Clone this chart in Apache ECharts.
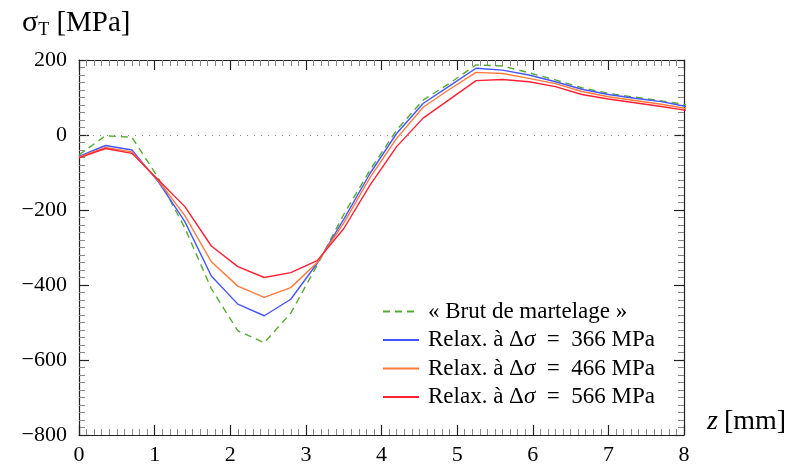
<!DOCTYPE html>
<html>
<head>
<meta charset="utf-8">
<script src="https://cdn.jsdelivr.net/npm/echarts@6/dist/echarts.min.js"></script>
<style>
  html, body { margin: 0; padding: 0; background: #fff; }
  #chart { width: 789px; height: 469px; }
</style>
</head>
<body>
<div id="chart"></div>
<script>
// Depth positions (mm), sampled every 0.35 mm
const zPos = [0, 0.35, 0.7, 1.05, 1.4, 1.75, 2.1, 2.45, 2.8, 3.15, 3.5, 3.85,
              4.2, 4.55, 4.9, 5.25, 5.6, 5.95, 6.3, 6.65, 7.0, 7.35, 7.7, 8.05];

// Transverse residual stress (MPa)
const brut   = [-53, -2, -6, -115, -248, -410, -522, -554, -475, -347, -212, -93,
                13, 93, 138, 187, 184, 166, 147, 126, 111, 101, 91, 80];
const relax366 = [-57, -28, -40, -125, -231, -376, -451, -482, -438, -342, -225, -102,
                4, 84, 131, 178, 173, 160, 142, 122, 108, 98, 89, 75];
const relax466 = [-59, -33, -45, -122, -215, -338, -403, -433, -407, -340, -235, -113,
                -9, 74, 122, 167, 164, 151, 137, 116, 102, 92, 82, 70];
const relax566 = [-61, -36, -49, -120, -191, -296, -351, -380, -367, -335, -250, -133,
                -31, 45, 95, 145, 148, 142, 129, 108, 96, 86, 76, 65];

const seriesNames = ['brut', 'r366', 'r466', 'r566'];
const legendText = {
  brut: '« Brut de martelage »',
  r366: 'Relax. à Δ{s|σ}\u2002=\u2002366 MPa',
  r466: 'Relax. à Δ{s|σ}\u2002=\u2002466 MPa',
  r566: 'Relax. à Δ{s|σ}\u2002=\u2002566 MPa'
};

const xTicks = [0, 1, 2, 3, 4, 5, 6, 7, 8];
const yTicks = [-800, -600, -400, -200, 0, 200];

const pairs = vals => zPos.map((z, i) => [z, vals[i]]);

const serif = 'Liberation Serif';
const axisColor = '#222';

function mainAxis(extra) {
  return Object.assign({
    type: 'value',
    axisLine: { show: true, onZero: false, lineStyle: { color: axisColor, width: 1.2 } },
    axisTick: { show: true, inside: true, length: 10, lineStyle: { color: axisColor, width: 1.2 } },
    minorTick: { show: true, splitNumber: 10, length: 6, lineStyle: { color: '#888', width: 1 } },
    splitLine: { show: false },
    minorSplitLine: { show: false }
  }, extra);
}

const chart = echarts.init(document.getElementById('chart'), null, { renderer: 'canvas' });

const lineBase = { type: 'line', showSymbol: false, symbol: 'none', smooth: false, clip: true, z: 3 };

chart.setOption({
  animation: false,
  backgroundColor: '#fff',
  grid: { left: 79, right: 105, top: 60, bottom: 34, containLabel: false },
  xAxis: [
    mainAxis({
      min: xTicks[0], max: xTicks[xTicks.length - 1], interval: 1,
      position: 'bottom',
      axisLabel: { show: true, fontFamily: serif, fontSize: 22, color: '#000', margin: 9 }
    }),
    mainAxis({
      min: xTicks[0], max: xTicks[xTicks.length - 1], interval: 1,
      position: 'top',
      axisLabel: { show: false }
    })
  ],
  yAxis: [
    mainAxis({
      min: yTicks[0], max: yTicks[yTicks.length - 1], interval: 200,
      position: 'left',
      axisLabel: {
        show: true, fontFamily: serif, fontSize: 22, color: '#000', margin: 12,
        formatter: v => String(v).replace('-', '\u2212')
      }
    }),
    mainAxis({
      min: yTicks[0], max: yTicks[yTicks.length - 1], interval: 200,
      position: 'right',
      axisLabel: { show: false }
    })
  ],
  legend: {
    orient: 'vertical',
    left: 377,
    top: 295,
    itemWidth: 36,
    itemHeight: 12,
    itemGap: 5.5,
    data: seriesNames,
    itemStyle: { opacity: 0 },
    formatter: name => legendText[name],
    textStyle: {
      fontFamily: serif, fontSize: 23, color: '#000', lineHeight: 22,
      padding: [0, 0, 0, 4],
      rich: { s: { fontFamily: serif, fontSize: 23, fontStyle: 'italic', color: '#000' } }
    }
  },
  series: [
    Object.assign({}, lineBase, {
      name: 'brut', data: pairs(brut),
      lineStyle: { color: '#55aa33', width: 1.4, type: [7, 5] },
      itemStyle: { color: '#55aa33' },
      markLine: {
        silent: true, symbol: 'none', label: { show: false },
        lineStyle: { color: '#888', type: [1, 6], width: 1 },
        data: [{ yAxis: 0 }]
      }
    }),
    Object.assign({}, lineBase, {
      name: 'r366', data: pairs(relax366),
      lineStyle: { color: '#4455ff', width: 1.4 }, itemStyle: { color: '#4455ff' }
    }),
    Object.assign({}, lineBase, {
      name: 'r466', data: pairs(relax466),
      lineStyle: { color: '#ff7a3a', width: 1.4 }, itemStyle: { color: '#ff7a3a' }
    }),
    Object.assign({}, lineBase, {
      name: 'r566', data: pairs(relax566),
      lineStyle: { color: '#ff1f33', width: 1.4 }, itemStyle: { color: '#ff1f33' }
    })
  ],
  graphic: [
    {
      type: 'text', left: 22, top: 8,
      style: {
        text: '{a|σ}{b|T}{c| [MPa]}',
        rich: {
          a: { fontFamily: serif, fontSize: 30, fill: '#000' },
          b: { fontFamily: serif, fontSize: 18, fill: '#000', padding: [14, 0, 0, 0] },
          c: { fontFamily: serif, fontSize: 29, fill: '#000' }
        }
      }
    },
    {
      type: 'text', left: 707, top: 408,
      style: {
        text: '{z|z}\u2002{c|[mm]}',
        rich: {
          z: { fontFamily: serif, fontSize: 28, fontStyle: 'italic', fill: '#000' },
          c: { fontFamily: serif, fontSize: 28, fill: '#000' }
        }
      }
    }
  ]
});
</script>
</body>
</html>
